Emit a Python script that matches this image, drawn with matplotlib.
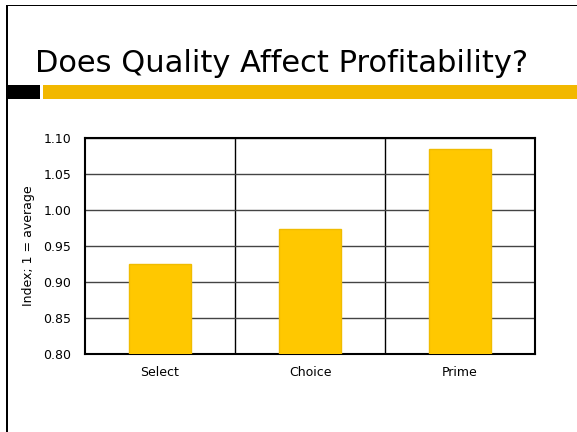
import matplotlib
matplotlib.use("Agg")
import matplotlib.pyplot as plt
from matplotlib.patches import Rectangle

categories = ["Select", "Choice", "Prime"]
values = [0.925, 0.973, 1.085]
yticks = [0.80, 0.85, 0.90, 0.95, 1.00, 1.05, 1.10]

W, H = 577, 432
fig = plt.figure(figsize=(W / 100, H / 100), dpi=100)

# slide decoration (pixel coords -> figure fraction)
def px(x0, y0, x1, y1, color):
    fig.patches.append(Rectangle((x0 / W, 1 - y1 / H), (x1 - x0) / W, (y1 - y0) / H,
                                 transform=fig.transFigure, color=color, lw=0))

px(6, 4.5, W, 5.8, "black")
px(6, 4.5, 8, H, "black")
px(8, 85, 40, 99, "black")
px(43, 85, W, 99, "#F2B800")

fig.text(35 / W, 1 - 63 / H, "Does Quality Affect Profitability?", fontsize=22,
         family="DejaVu Sans", va="center", ha="left")

ax = fig.add_axes([85 / W, (H - 354) / H, 450 / W, 216 / H])
x = range(len(categories))
ax.bar(x, values, width=0.41, color="#FFC800", edgecolor="#F0BC00", lw=1, zorder=3)
ax.set_ylim(0.80, 1.10)
ax.set_xlim(-0.5, 2.5)
ax.set_yticks(yticks)
ax.set_yticklabels([f"{v:.2f}" for v in yticks], fontsize=9)
ax.set_xticks(list(x))
ax.set_xticklabels(categories, fontsize=9)
ax.set_xticks([0.5, 1.5], minor=True)
ax.tick_params(axis="y", which="both", length=0, pad=10)
ax.tick_params(axis="x", which="both", length=0, pad=9)
ax.grid(axis="y", color="#444444", lw=1, zorder=0)
ax.grid(axis="x", which="minor", color="black", lw=1, zorder=0)
for s in ax.spines.values():
    s.set_linewidth(1.5)
ax.set_ylabel("Index; 1 = average", fontsize=9, labelpad=6)

fig.savefig("out.png", dpi=100)
